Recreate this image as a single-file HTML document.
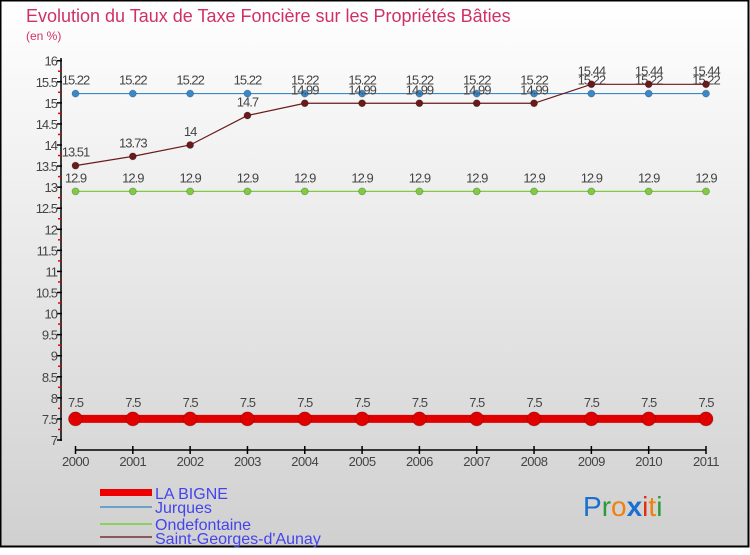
<!DOCTYPE html>
<html><head><meta charset="utf-8"><style>
body{margin:0;width:750px;height:550px;overflow:hidden;font-family:"Liberation Sans",sans-serif}
</style></head><body>
<svg id="chart" width="750" height="550" xmlns="http://www.w3.org/2000/svg">
<defs><linearGradient id="bg" x1="0" y1="0" x2="0" y2="1"><stop offset="0" stop-color="#ffffff"/><stop offset="1" stop-color="#d0d0d0"/></linearGradient></defs>
<rect x="0.5" y="0.5" width="748" height="546" fill="url(#bg)" stroke="#000" stroke-width="2"/>
<text x="26" y="22" font-size="18" fill="#d0306a">Evolution du Taux de Taxe Foncière sur les Propriétés Bâties</text>
<text x="26" y="40" font-size="12" fill="#d0306a">(en %)</text>
<g id="axes"></g><g id="series"></g>
<g>
<rect x="100" y="489" width="52" height="7" fill="#e00"/>
<text x="155" y="499" font-size="16" fill="#4444ee">LA BIGNE</text>
<rect x="100" y="506" width="52" height="2" fill="#6fa0c8"/>
<text x="155" y="513" font-size="16" fill="#4444ee">Jurques</text>
<rect x="100" y="523" width="52" height="2" fill="#8ed060"/>
<text x="155" y="530" font-size="16" fill="#4444ee">Ondefontaine</text>
<rect x="100" y="536" width="52" height="2" fill="#8a5a5a"/>
<text x="155" y="544" font-size="16" fill="#4444ee">Saint-Georges-d'Aunay</text>
</g>
<text x="583" y="516" font-size="28"><tspan fill="#1a70d0">P</tspan><tspan fill="#2a9a3a">r</tspan><tspan fill="#f08010">o</tspan><tspan fill="#1a70d0" font-weight="bold">x</tspan><tspan fill="#e03010">i</tspan><tspan fill="#f08010">t</tspan><tspan fill="#2a9a3a">i</tspan></text>
</svg>
<script>
const years=[2000,2001,2002,2003,2004,2005,2006,2007,2008,2009,2010,2011];
const yTicks=[7,7.5,8,8.5,9,9.5,10,10.5,11,11.5,12,12.5,13,13.5,14,14.5,15,15.5,16];
const laBigne=[7.5,7.5,7.5,7.5,7.5,7.5,7.5,7.5,7.5,7.5,7.5,7.5];
const jurques=[15.22,15.22,15.22,15.22,15.22,15.22,15.22,15.22,15.22,15.22,15.22,15.22];
const ondefontaine=[12.9,12.9,12.9,12.9,12.9,12.9,12.9,12.9,12.9,12.9,12.9,12.9];
const saintGeorges=[13.51,13.73,14,14.7,14.99,14.99,14.99,14.99,14.99,15.44,15.44,15.44];
const NS="http://www.w3.org/2000/svg";
const X=i=>75.5+i*(706-75.5)/11;
const Y=v=>440-(v-7)*(440-60.7)/9;
function mk(tag,attrs,parent){const e=document.createElementNS(NS,tag);for(const k in attrs)e.setAttribute(k,attrs[k]);parent.appendChild(e);return e;}
const axes=document.getElementById('axes');
let yl=mk('line',{x1:61,y1:58,x2:61,y2:441,stroke:'#000','stroke-width':1.5},axes);


yTicks.forEach((t,i)=>{
  const y=Y(t);
  const tk=mk('line',{x1:57,y1:y,x2:62,y2:y,stroke:'#000','stroke-width':1.5},axes);
  
  
  if(i<yTicks.length-1){
    const ym=Y(t+0.25);
    const mt=mk('line',{x1:58,y1:ym,x2:61,y2:ym,stroke:'#e00','stroke-width':1.5},axes);
    
    
  }
  const lb=mk('text',{x:57,y:y+5,'font-size':13,'text-anchor':'end',fill:'#444','letter-spacing':'-1'},axes);
  lb.textContent=String(t);
  
  
});
let xl=mk('line',{x1:75.5,y1:450,x2:706,y2:450,stroke:'#000','stroke-width':1.5},axes);


years.forEach((yr,i)=>{
  const tk=mk('line',{x1:X(i),y1:446,x2:X(i),y2:454,stroke:'#000','stroke-width':1.5},axes);
  
  
  const lb=mk('text',{x:X(i),y:466,'font-size':13,'text-anchor':'middle',fill:'#444','letter-spacing':'-0.5'},axes);
  lb.textContent=String(yr);
  
  
});
const sg=document.getElementById('series');
function series(vals,color,lw,r,name){
  const g=mk('g',{},sg);
  
  
  const pl=mk('polyline',{points:vals.map((v,i)=>X(i)+','+Y(v)).join(' '),fill:'none',stroke:color,'stroke-width':lw},g);
  
  
  vals.forEach((v,i)=>{
    const c=mk('circle',{cx:X(i),cy:Y(v),r:r,fill:color,stroke:'rgba(0,0,0,0.25)','stroke-width':0.8},g);
    
    
    const t=mk('text',{x:X(i),y:Y(v)-9-(r>5?3:0),'font-size':13,'text-anchor':'middle',fill:'#444','letter-spacing':'-1'},g);
    t.textContent=String(v);
    
    
  });
}
series(jurques,'#3a88c8',1.2,3.5,'jurques');
series(ondefontaine,'#80cc40',1.2,3.5,'ondefontaine');
series(saintGeorges,'#6a1a1a',1.2,3.5,'saint-georges');
series(laBigne,'#e00000',8,7,'la-bigne');
</script>
</body></html>
